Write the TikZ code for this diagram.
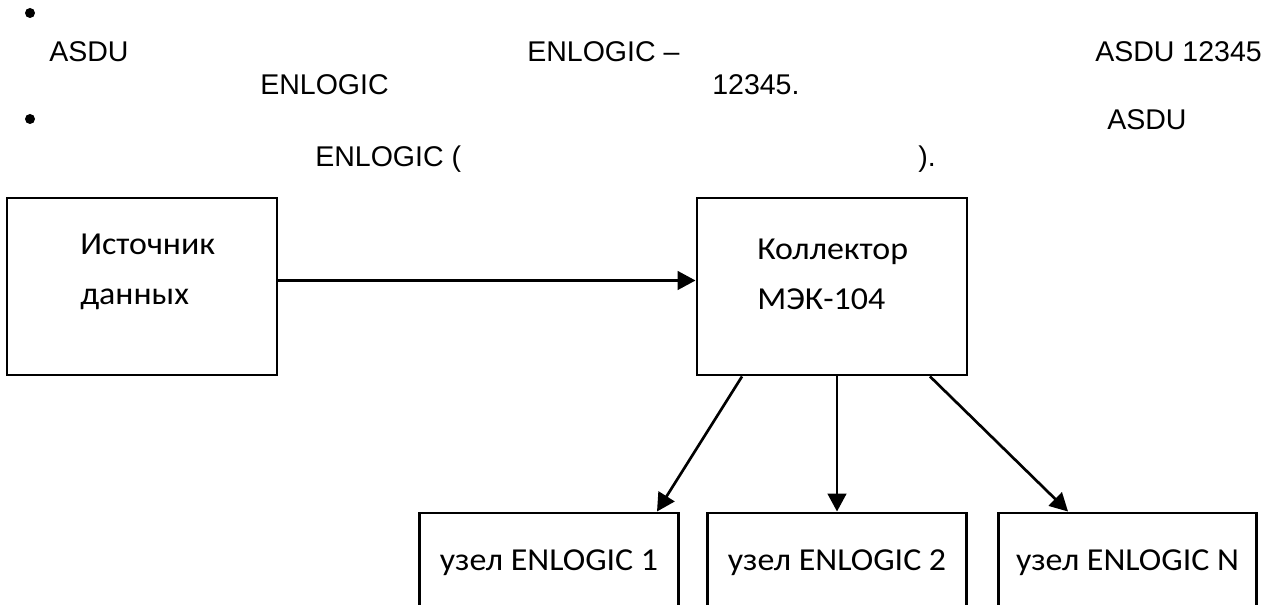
\documentclass[tikz,border=0pt]{standalone}
\usepackage{fontspec}
\setmainfont{Liberation Sans}
\newfontfamily\boxfont[FakeStretch=1.06]{Carlito}
\usetikzlibrary{positioning,arrows.meta,calc}

\tikzset{
  txt/.style={anchor=base west, inner sep=0pt, font=\fontsize{21.4}{25}\selectfont},
  blockbox/.style={draw=black, line width=2.2pt, inner sep=0pt},
  blocktext/.style={inner sep=0pt, align=left, font=\boxfont\fontsize{24}{37.5}\selectfont},
  nodebox/.style={draw=black, line width=2.2pt, minimum width=194pt, minimum height=75pt, inner sep=0pt, font=\boxfont\fontsize{24}{28}\selectfont},
  link/.style={line width=2pt, -{Triangle[length=13.5pt,width=14pt]}}
}

\begin{document}
\begin{tikzpicture}[x=0.75pt,y=-0.75pt]
\useasboundingbox (0,0) rectangle (1282,605);
% text above the picture
\fill (30,13) circle (5);
\fill (30,119) circle (5);
\node[txt] (t1a) at (49,62) {ASDU};
\node[txt] (t1b) at (527,62) {ENLOGIC –};
\node[txt] (t1c) at (1095,62) {ASDU 12345};
\node[txt] (t2a) at (260,95) {ENLOGIC};
\node[txt] (t2b) at (712,95) {12345.};
\node[txt] (t3a) at (1107,130) {ASDU};
\node[txt] (t4a) at (315,167) {ENLOGIC (};
\node[txt] (t4b) at (918,167) {).};

% blocks
\node[blockbox, minimum width=202.5pt, minimum height=132.75pt] (src) at (142,286.5) {};
\node[blockbox, minimum width=202.5pt, minimum height=132.75pt] (col) at (832,286.5) {};
\node[blocktext, anchor=base west] (srctext) at (80,305) {Источник\\данных};
\node[blocktext, anchor=base west] (coltext) at (757,310) {Коллектор\\МЭК-104};

% ENLOGIC nodes
\node[nodebox] (n1) at (549,563) {узел ENLOGIC 1};
\node[nodebox] (n2) at (837,563) {узел ENLOGIC 2};
\node[nodebox] (n3) at (1127.5,563) {узел ENLOGIC N};

% arrows
\draw[link] ([yshift=4.5pt]src.east) -- ([yshift=4.5pt]col.west);
\draw[link] ([xshift=-67.5pt]col.south) -- ([xshift=81pt]n1.north);
\draw[link] ([xshift=3.75pt]col.south) -- (n2.north);
\draw[link] ([xshift=73.5pt]col.south) -- ([xshift=-44.6pt]n3.north);
\end{tikzpicture}
\end{document}
